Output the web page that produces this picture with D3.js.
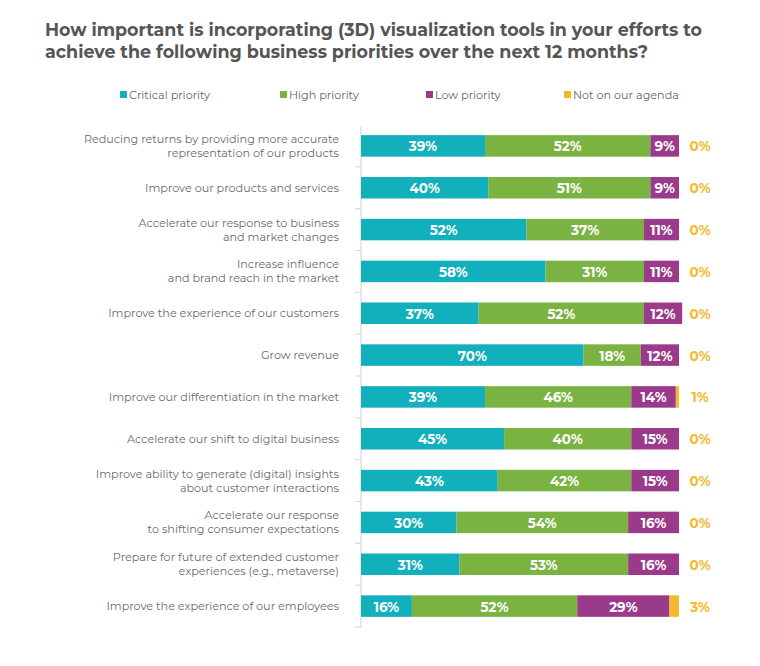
<!DOCTYPE html>
<html><head><meta charset="utf-8">
<script src="https://cdn.jsdelivr.net/npm/d3@7"></script>
<style>body{margin:0;background:#fff}svg{display:block}</style>
</head><body>
<svg id="c" width="760" height="666"></svg>
<script>
const categories = [
  "Reducing returns by providing more accurate\nrepresentation of our products",
  "Improve our products and services",
  "Accelerate our response to business\nand market changes",
  "Increase influence\nand brand reach in the market",
  "Improve the experience of our customers",
  "Grow revenue",
  "Improve our differentiation in the market",
  "Accelerate our shift to digital business",
  "Improve ability to generate (digital) insights\nabout customer interactions",
  "Accelerate our response\nto shifting consumer expectations",
  "Prepare for future of extended customer\nexperiences (e.g., metaverse)",
  "Improve the experience of our employees"
];
const seriesNames = ["Critical priority","High priority","Low priority","Not on our agenda"];
const critical = [39,40,52,58,37,70,39,45,43,30,31,16];
const high     = [52,51,37,31,52,18,46,40,42,54,53,52];
const low      = [9,9,11,11,12,12,14,15,15,16,16,29];
const notAgenda= [0,0,0,0,0,0,1,0,0,0,0,3];
const colors = ["#12AFBD","#7AB341","#9B3A8B","#F6B92D"];
const titleLines = ["How important is incorporating (3D) visualization tools in your efforts to",
                    "achieve the following business priorities over the next 12 months?"];

const FONT = "Montserrat, 'DejaVu Sans', sans-serif";
const svg = d3.select("#c");

const rows = categories.map((c,i)=>({cat:c, vals:[critical[i],high[i],low[i],notAgenda[i]]}));
const keys = [0,1,2,3];
const stack = d3.stack().keys(keys).value((d,k)=>d.vals[k]);
const stacked = stack(rows);

const x = d3.scaleLinear().domain([0,100]).range([361,679]);
const y = d3.scaleBand().domain(categories).range([125,627]).paddingInner(0.486).paddingOuter(0.243);

// title
const t = svg.append("g");
titleLines.forEach((l,i)=>{
  t.append("text").attr("x",45).attr("y",36+i*21.5)
   .attr("font-family",FONT).attr("font-weight",700).attr("font-size",17.5)
   .attr("fill","#555").attr("textLength", i===0?657:603).attr("lengthAdjust","spacingAndGlyphs")
   .text(l);
});

// legend
const legX = [120,280,426,564];
seriesNames.forEach((n,i)=>{
  svg.append("rect").attr("x",legX[i]).attr("y",91).attr("width",7).attr("height",7).attr("fill",colors[i]);
  svg.append("text").attr("x",legX[i]+9).attr("y",95).attr("dominant-baseline","central")
    .attr("font-family",FONT).attr("font-size",11.2).attr("fill","#666").text(n);
});

// axis
const yAxis = d3.axisLeft(y).tickSize(0).tickFormat("");
const ag = svg.append("g").attr("transform","translate(360.5,0)").call(yAxis);
ag.select(".domain").attr("stroke","#d9d9d9").attr("stroke-width",1.2);
// boundary ticks
const bounds = d3.range(categories.length+1).map(k=>y.range()[0]+k*y.step());
svg.append("g").selectAll("line").data(bounds.slice(1)).join("line")
  .attr("x1",355).attr("x2",361).attr("y1",d=>d).attr("y2",d=>d)
  .attr("stroke","#d9d9d9").attr("stroke-width",1.2);

// labels
const lg = svg.append("g");
rows.forEach(r=>{
  const lines = r.cat.split("\n");
  const cy = y(r.cat)+y.bandwidth()/2;
  lines.forEach((l,j)=>{
    lg.append("text").attr("x",339).attr("y",cy+(j-(lines.length-1)/2)*14)
      .attr("dominant-baseline","central").attr("text-anchor","end")
      .attr("font-family",FONT).attr("font-size",11.2).attr("fill","#6b6b6b").text(l);
  });
});

// bars
stacked.forEach((s,k)=>{
  const g = svg.append("g");
  g.selectAll("rect").data(s).join("rect")
    .attr("x",d=>x(d[0])).attr("width",d=>x(d[1])-x(d[0]))
    .attr("y",d=>y(d.data.cat)).attr("height",y.bandwidth())
    .attr("fill",colors[k]);
  if(k<3){
    g.selectAll("text").data(s).join("text")
      .attr("x",d=>(x(d[0])+x(d[1]))/2).attr("y",d=>y(d.data.cat)+y.bandwidth()/2+0.5)
      .attr("text-anchor","middle").attr("dominant-baseline","central")
      .attr("font-family",FONT).attr("font-weight",700).attr("font-size",13.5).attr("fill","#fff")
      .text(d=>(d[1]-d[0])+"%");
  } else {
    g.selectAll("text").data(s).join("text")
      .attr("x",700).attr("y",d=>y(d.data.cat)+y.bandwidth()/2+0.5)
      .attr("text-anchor","middle").attr("dominant-baseline","central")
      .attr("font-family",FONT).attr("font-weight",700).attr("font-size",13.5).attr("fill","#F6B92D")
      .text(d=>(d[1]-d[0])+"%");
  }
});
</script>
</body></html>
